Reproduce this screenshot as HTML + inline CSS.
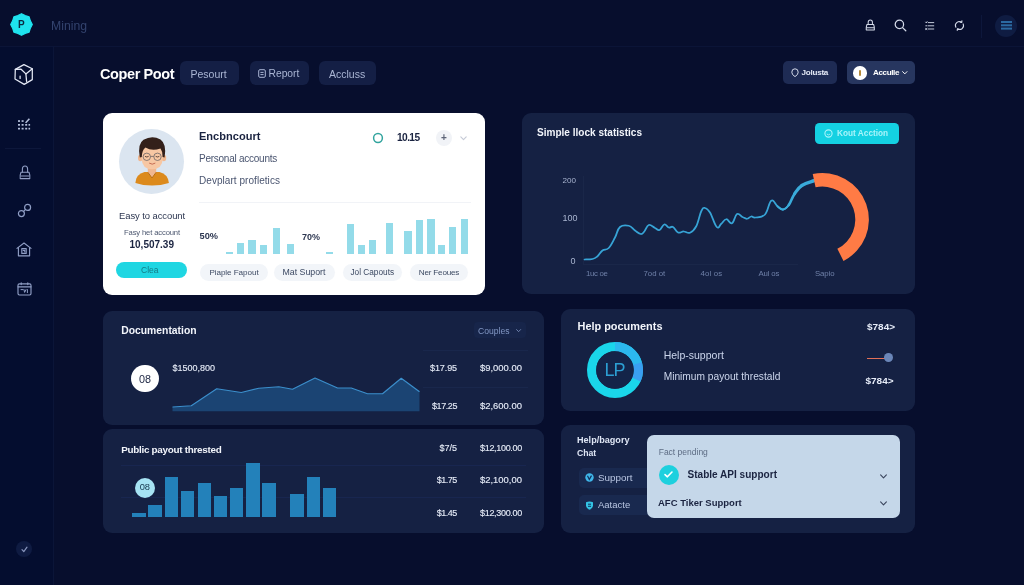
<!DOCTYPE html>
<html lang="en">
<head>
<meta charset="utf-8">
<title>Coper Poot – Mining dashboard</title>
<style>
*{box-sizing:border-box;margin:0;padding:0}
html,body{width:1024px;height:585px;overflow:hidden}
body{background:#070e2d;font-family:"Liberation Sans",sans-serif;color:#fff;position:relative}
.abs{position:absolute}
.t{position:absolute;white-space:nowrap;line-height:1;transform:translateY(-50%)}
.b{font-weight:bold}
.card{position:absolute;background:#152143;border-radius:9px}
.tab{position:absolute;background:#141f45;border-radius:6px;top:61px;height:24px}
.pill{position:absolute;background:#f2f5f9;border-radius:9px;top:263.5px;height:17px;color:#3d4a63;font-size:9px;text-align:center;line-height:17px;white-space:nowrap}
.bar{position:absolute;background:#93dbe9}
.bar2{position:absolute;background:#2381ba}
.num{font-size:10px;color:#e6ecf8;-webkit-text-stroke:0.120px #e6ecf8}
svg{position:absolute;overflow:visible}
</style>
</head>
<body>
<!-- sidebar + header base -->
<div class="abs" id="sidebar" style="left:0;top:46px;width:53px;height:539px;background:#040d2f"></div>
<div class="abs" style="left:0;top:45.5px;width:1024px;height:1px;background:#0b1437"></div>
<div class="abs" style="left:53px;top:46px;width:1px;height:539px;background:#0b1538"></div>

<!-- logo -->
<svg style="left:9.4px;top:12px" width="25" height="25" viewBox="0 0 25 25">
  <polygon points="12.50,1.70 16.17,3.63 20.14,4.86 21.37,8.83 23.30,12.50 21.37,16.17 20.14,20.14 16.17,21.37 12.50,23.30 8.83,21.37 4.86,20.14 3.63,16.17 1.70,12.50 3.63,8.83 4.86,4.86 8.83,3.63" fill="#1fe3ee" stroke="#1fe3ee" stroke-width="1.200" stroke-linejoin="round"/>
  <text x="12.400" y="16" font-family="Liberation Sans, sans-serif" font-weight="bold" font-size="10" text-anchor="middle" fill="#0b2a40">P</text>
</svg>
<div class="t" style="left:51px;top:25.5px;color:#33436e;font-size:12.22px">Mining</div>

<!-- title + tabs -->
<div class="t b" style="left:100px;top:73.5px;font-size:14.5px;letter-spacing:-0.39px">Coper Poot</div>
<div class="tab" style="left:180px;width:58.5px"></div>
<div class="t" style="left:190.5px;top:73.5px;font-size:10.5px;color:#aab6d4">Pesourt</div>
<div class="tab" style="left:249.5px;width:59px"></div>
<div class="t" style="left:268.5px;top:73.5px;color:#aab6d4;font-size:10.29px">Report</div>
<div class="tab" style="left:319px;width:57px"></div>
<div class="t" style="left:329px;top:73.5px;font-size:10.5px;color:#aab6d4">Accluss</div>

<!-- right buttons -->
<div class="abs" style="left:783px;top:61px;width:54px;height:23px;background:#1e2b54;border-radius:5px"></div>
<div class="t b" style="left:801.5px;top:72.8px;color:#e4e9f6;font-size:8.1px;letter-spacing:-0.25px">Jolusta</div>
<div class="abs" style="left:846.5px;top:61px;width:68px;height:23px;background:#27365f;border-radius:5px"></div>
<div class="abs" style="left:853px;top:66px;width:13.5px;height:13.5px;border-radius:50%;background:#fff"></div>
<div class="t b" style="left:873px;top:72.8px;color:#fff;font-size:8.1px;letter-spacing:-0.39px">Acculle</div>


<!-- header icons -->
<svg style="left:865px;top:19.300px" width="10.600" height="12.400" viewBox="0 0 12 14" fill="none" stroke="#d5dbea" stroke-width="1.150" stroke-linecap="round" stroke-linejoin="round">
  <path d="M3.600,6 L3.600,3.600 Q3.600,1 6,1 Q8.400,1 8.400,3.600 L8.400,6"/>
  <path d="M2.200,6.200 L9.800,6.200 Q11,9.500 10.600,12.400 L1.400,12.400 Q1,9.500 2.200,6.200 Z"/>
  <path d="M2,10 L10,10"/>
</svg>
<svg style="left:893.500px;top:19px" width="13" height="13" viewBox="0 0 13 13" fill="none" stroke="#d5dbea" stroke-width="1.250" stroke-linecap="round">
  <circle cx="5.400" cy="5.400" r="4.200"/><path d="M8.600,8.600 L11.800,11.800"/>
</svg>
<svg style="left:925px;top:20.800px" width="9.600" height="9.600" viewBox="0 0 12 12" fill="none" stroke="#d5dbea" stroke-width="1.150" stroke-linecap="round">
  <path d="M4,2 L11,2 M4,6 L11,6 M4,10 L11,10"/><path d="M0.800,1.400 L1.600,2.400 L2.600,0.800 M1,6 L2.400,6 M0.800,9.400 L2.400,10.600 M2.400,9.400 L0.800,10.600"/>
</svg>
<svg style="left:954.300px;top:20px" width="11" height="11" viewBox="0 0 13 13" fill="none" stroke="#d5dbea" stroke-width="1.250" stroke-linecap="round" stroke-linejoin="round">
  <path d="M2.200,8.600 Q0.600,5.400 3.200,3.200 Q6,1 9,2.400"/><path d="M9.400,0.800 L9.200,2.800 L7.200,2.600"/>
  <path d="M10.800,4.600 Q12.200,7.600 9.800,10 Q7.200,12 4.200,10.800"/><path d="M3.800,12.300 L4,10.400 L6,10.600"/>
</svg>
<div class="abs" style="left:981px;top:15px;width:1px;height:23px;background:#0d173b"></div>
<div class="abs" style="left:995px;top:14.500px;width:22px;height:22px;border-radius:50%;background:#0f1c42"></div>
<div class="abs" style="left:1000.500px;top:21.300px;width:11px;height:1.600px;background:#2b6aa2;box-shadow:0 3.300px 0 #2b6aa2,0 6.600px 0 #2b6aa2"></div>
<!-- small button icons -->
<svg style="left:791px;top:68px" width="8" height="10" viewBox="0 0 8 10" fill="none" stroke="#d5dbea" stroke-width="1"><path d="M4,0.800 Q7.200,0.800 7.200,4.200 Q7.200,6.800 4,8.600 Q0.800,6.800 0.800,4.200 Q0.800,0.800 4,0.800 Z"/></svg>
<div class="abs" style="left:858.600px;top:70px;width:2.400px;height:5.500px;border-radius:1px;background:#b58a3a"></div>
<svg style="left:902px;top:71px" width="5.600" height="4" viewBox="0 0 7 5"><path d="M0.800,0.800 L3.500,3.600 L6.200,0.800" fill="none" stroke="#fff" stroke-width="1.200" stroke-linecap="round" stroke-linejoin="round"/></svg>
<svg style="left:257.500px;top:69px" width="8" height="9" viewBox="0 0 8 9" fill="none" stroke="#aab6d4" stroke-width="1"><rect x="0.700" y="0.700" width="6.600" height="7.600" rx="1.200"/><path d="M2.400,3.400 L5.600,3.400 M2.400,5.600 L5.600,5.600"/></svg>

<!-- sidebar icons -->
<svg style="left:14px;top:64px" width="20" height="22" viewBox="0 0 20 22" fill="none" stroke="#e4e8f4" stroke-width="1.250" stroke-linejoin="round" stroke-linecap="round">
  <path d="M9.900,0.600 L18.300,4.800 L18.300,15.600 L10.200,20.400 L1,15 L1.300,5.400 Z"/>
  <path d="M1.300,5.400 L7.100,5.200 L11.900,9.900 L18.300,4.800"/>
  <path d="M11.900,9.900 L12.600,17.400"/>
  <path d="M6.100,12 L6.100,14.400"/>
</svg>
<svg style="left:17px;top:117px" width="14" height="14" viewBox="0 0 14 14" fill="#b4bfdb">
  <rect x="1" y="3.200" width="2" height="1.700"/><rect x="4.600" y="3.200" width="2" height="1.700"/>
  <rect x="1" y="7" width="2" height="1.700"/><rect x="4.600" y="7" width="2" height="1.700"/><rect x="8.200" y="7" width="2" height="1.700"/><rect x="11.500" y="7" width="1.600" height="1.700"/>
  <rect x="1" y="10.800" width="2" height="1.700"/><rect x="4.600" y="10.800" width="2" height="1.700"/><rect x="8.200" y="10.800" width="2" height="1.700"/><rect x="11.500" y="10.800" width="1.600" height="1.700"/>
  <path d="M8,5.400 L11.800,1.200 L13,2.300 L9.300,6.200 Z"/>
</svg>
<div class="abs" style="left:5px;top:147.500px;width:36px;height:1px;background:#0d173b"></div>
<svg style="left:18.500px;top:164.500px" width="12" height="15" viewBox="0 0 12 15" fill="none" stroke="#8f9dc4" stroke-width="1.100" stroke-linecap="round" stroke-linejoin="round">
  <path d="M3.400,7 L3.400,4 Q3.400,1 6,1 Q8.600,1 8.600,4 L8.600,7"/>
  <path d="M2,7.200 L10,7.200 Q11.400,10.500 10.800,13.600 L1.200,13.600 Q0.600,10.500 2,7.200 Z"/><path d="M1.600,11 L10.400,11"/>
</svg>
<svg style="left:17px;top:203px" width="15" height="15" viewBox="0 0 15 15" fill="none" stroke="#8f9dc4" stroke-width="1.200" stroke-linecap="round">
  <circle cx="10.600" cy="4.400" r="3"/><circle cx="4.400" cy="10.600" r="3"/><path d="M6.400,8.600 L8.600,6.400"/>
</svg>
<svg style="left:16px;top:241.500px" width="16" height="15" viewBox="0 0 16 15" fill="none" stroke="#8f9dc4" stroke-width="1.150" stroke-linejoin="round" stroke-linecap="round">
  <path d="M1,6.400 L8,1 L15,6.400"/><path d="M2.400,5.600 L2.400,13.800 L13.600,13.800 L13.600,5.600"/><rect x="5.800" y="6.600" width="4.400" height="4.800"/><path d="M7.200,8.400 L8.800,8.400 L8.800,10"/>
</svg>
<svg style="left:16.500px;top:281.500px" width="15" height="14" viewBox="0 0 15 14" fill="none" stroke="#8f9dc4" stroke-width="1.150" stroke-linejoin="round" stroke-linecap="round">
  <rect x="1" y="1.800" width="13" height="11.200" rx="1.400"/><path d="M1,4.800 L14,4.800 M4.200,0.800 L4.200,2.600 M10.800,0.800 L10.800,2.600"/><path d="M4,7.600 L6,7.600 M7,7.600 L7.600,10.400 L9,7.600 M10.400,7.600 L10.400,10.600" stroke-width="1"/>
</svg>
<div class="abs" style="left:16px;top:541px;width:16px;height:16px;border-radius:50%;background:#0f1b42"></div>
<svg style="left:20.500px;top:545.500px" width="7" height="7" viewBox="0 0 7 7"><path d="M1,3.600 L2.800,5.600 L6,1.200" fill="none" stroke="#8794bc" stroke-width="1.200" stroke-linecap="round" stroke-linejoin="round"/></svg>

<!-- CARD A : white account card -->
<div class="abs" id="cardA" style="left:102.5px;top:113px;width:382px;height:181.5px;background:#fff;border-radius:9px"></div>


<!-- avatar -->
<svg style="left:118.5px;top:128.5px" width="65" height="65" viewBox="0 0 65 65">
  <defs><clipPath id="avc"><circle cx="32.500" cy="32.500" r="32.500"/></clipPath></defs>
  <circle cx="32.500" cy="32.500" r="32.500" fill="#dbe5f0"/>
  <g clip-path="url(#avc)">
    <path d="M16.400,54 Q17,45 25.500,43 L40.500,43 Q49,45 49.900,54 Q42,56.600 33,56.600 Q24,56.600 16.400,54 Z" fill="#dc8a1c"/>
    <path d="M28.800,37 L37.200,37 L37.200,43.500 L33,49 L28.800,43.500 Z" fill="#f1b78f"/>
    <path d="M28.800,43.200 L33,49 L37.200,43.200" fill="none" stroke="#b86f14" stroke-width="1"/>
    <ellipse cx="21.300" cy="29" rx="2.300" ry="3.200" fill="#f1b78f"/>
    <ellipse cx="44.900" cy="29" rx="2.300" ry="3.200" fill="#f1b78f"/>
    <path d="M22.600,22 Q22.600,12 33,12 Q43.800,12 43.800,22 L43.800,29.500 Q43.400,40.200 33.200,40.200 Q23,40.200 22.600,29.500 Z" fill="#f7c7a3"/>
    <path d="M20.800,28.500 Q18.200,15 24.500,10.800 Q33,5.800 41.500,10.400 Q48,15 45.600,28.500 L43.600,28 Q43.800,22.500 41.500,19.500 Q33,22.500 26.500,18.600 Q23,21 22.800,28 Z" fill="#33201a"/>
    <circle cx="27.800" cy="27.800" r="3.700" fill="none" stroke="#6b6466" stroke-width="0.800"/>
    <circle cx="38.500" cy="27.800" r="3.700" fill="none" stroke="#6b6466" stroke-width="0.800"/>
    <path d="M31.500,27.400 L34.800,27.400" stroke="#6b6466" stroke-width="0.800"/>
    <path d="M26.300,27.600 Q27.800,28.600 29.300,27.600 M37,27.600 Q38.500,28.600 40,27.600" stroke="#3b2a26" stroke-width="0.800" fill="none" stroke-linecap="round"/>
    <path d="M30.500,34.300 Q33.200,36.300 36,34.300" stroke="#c0624a" stroke-width="0.900" fill="none" stroke-linecap="round"/>
  </g>
</svg>
<div class="t b" style="left:199px;top:136.5px;color:#1a2340;font-size:11.05px">Encbncourt</div>
<div class="t" style="left:199px;top:159px;color:#4a5570;font-size:10px;letter-spacing:-0.25px">Personal accounts</div>
<div class="t" style="left:199px;top:180.5px;color:#4a5570;font-size:10px;letter-spacing:0.05px">Devplart profletics</div>
<div class="abs" style="left:199px;top:202px;width:272px;height:1px;background:#f1f3f7"></div>
<svg style="left:371.800px;top:131.600px" width="12" height="12" viewBox="0 0 12 12"><circle cx="6" cy="6" r="4.400" fill="none" stroke="#32a49e" stroke-width="1.500"/></svg>
<div class="t b" style="left:397px;top:137.5px;color:#1a2340;font-size:10.2px;letter-spacing:-0.6px">10.15</div>
<div class="abs" style="left:435.5px;top:129.5px;width:16.5px;height:16.5px;border-radius:50%;background:#f1f3f7"></div>
<div class="t b" style="left:440.900px;top:138.400px;font-size:10px;color:#5d6477">+</div>
<svg style="left:460px;top:135.5px" width="7" height="5" viewBox="0 0 7 5"><path d="M0.800,0.800 L3.500,3.600 L6.200,0.800" fill="none" stroke="#c5cad6" stroke-width="1.100" stroke-linecap="round" stroke-linejoin="round"/></svg>
<div class="t" style="left:119px;top:216px;color:#2c3650;font-size:9.45px;letter-spacing:-0.07px">Easy to account</div>
<div class="t" style="left:124px;top:232.5px;color:#4d5870;font-size:7.65px;letter-spacing:-0.14px">Fasy het account</div>
<div class="t b" style="left:129.5px;top:245px;font-size:10px;color:#1a2340">10,507.39</div>
<div class="abs" style="left:116px;top:262px;width:71px;height:15.5px;border-radius:8px;background:#1fd6e2"></div>
<div class="t" style="left:141px;top:269.8px;font-size:8.5px;color:#147a86">Clea</div>
<div class="t b" style="left:199.5px;top:237px;color:#2c3650;font-size:9.24px">50%</div>
<div class="t b" style="left:302px;top:237px;color:#2c3650;font-size:8.99px">70%</div>
<div class="bar" style="left:225.75px;top:251.75px;width:7.25px;height:2.0px"></div><div class="bar" style="left:237px;top:243px;width:6.75px;height:10.75px"></div><div class="bar" style="left:248px;top:239.5px;width:7.5px;height:14.25px"></div><div class="bar" style="left:259.5px;top:245px;width:7.25px;height:8.75px"></div><div class="bar" style="left:272.5px;top:227.5px;width:7.5px;height:26.25px"></div><div class="bar" style="left:286.5px;top:243.75px;width:7.25px;height:10.0px"></div><div class="bar" style="left:325.5px;top:251.5px;width:7.5px;height:2.25px"></div><div class="bar" style="left:346.75px;top:223.75px;width:7.0px;height:30.0px"></div><div class="bar" style="left:358px;top:244.5px;width:7px;height:9.25px"></div><div class="bar" style="left:368.75px;top:240px;width:7.0px;height:13.75px"></div><div class="bar" style="left:385.75px;top:223.25px;width:7.5px;height:30.5px"></div><div class="bar" style="left:404.25px;top:230.75px;width:7.5px;height:23.0px"></div><div class="bar" style="left:415.5px;top:219.5px;width:7.0px;height:34.25px"></div><div class="bar" style="left:427px;top:219.25px;width:7.5px;height:34.5px"></div><div class="bar" style="left:438px;top:244.5px;width:7px;height:9.25px"></div><div class="bar" style="left:449px;top:227px;width:7.25px;height:26.75px"></div><div class="bar" style="left:460.5px;top:218.75px;width:7.5px;height:35.0px"></div>
<div class="pill" style="left:200px;width:68px;font-size:8.1px;letter-spacing:-0.06px">Piaple Fapout</div>
<div class="pill" style="left:273.5px;width:61px;font-size:8.79px">Mat Suport</div>
<div class="pill" style="left:342.5px;width:59.5px;font-size:8.28px">Jol Capouts</div>
<div class="pill" style="left:410px;width:58px;font-size:8.1px;letter-spacing:-0.18px">Ner Feoues</div>

<!-- CARD B : statistics -->
<div class="card" id="cardB" style="left:522px;top:113px;width:392.5px;height:181px"></div>


<div class="t b" style="left:537px;top:133px;color:#f2f5fb;font-size:10.05px">Simple llock statistics</div>
<div class="abs" style="left:814.5px;top:123px;width:84px;height:20.5px;border-radius:4.5px;background:#14d1e2"></div>
<svg style="left:823.5px;top:128.5px" width="9" height="9" viewBox="0 0 9 9"><circle cx="4.500" cy="4.500" r="3.600" fill="none" stroke="#a8f4fa" stroke-width="1.100"/><path d="M2.800,5 Q4.500,6.800 6.200,5" fill="none" stroke="#a8f4fa" stroke-width="0.900"/></svg>
<div class="t b" style="left:837px;top:133.5px;color:#a8f4fa;font-size:8.27px">Kout Acction</div>
<div class="t" style="left:562.5px;top:180.5px;color:#a9b5d0;font-size:8.1px">200</div>
<div class="t" style="left:562.5px;top:218.2px;font-size:9px;color:#a9b5d0">100</div>
<div class="t" style="left:570.5px;top:260.5px;font-size:9px;color:#a9b5d0">0</div>
<div class="abs" style="left:583px;top:176px;width:1px;height:88px;background:#1a2749"></div>
<div class="abs" style="left:583px;top:264px;width:215px;height:1px;background:#1a2749"></div>
<div class="t" style="left:586px;top:274.3px;color:#6f80a8;font-size:7.8px;letter-spacing:-0.32px">1uc oe</div>
<div class="t" style="left:643.5px;top:274.3px;color:#6f80a8;font-size:7.8px;letter-spacing:0.01px">7od ot</div>
<div class="t" style="left:700.5px;top:274.3px;color:#6f80a8;font-size:7.8px;letter-spacing:0.16px">4ol os</div>
<div class="t" style="left:758.5px;top:274.3px;color:#6f80a8;font-size:7.8px;letter-spacing:-0.15px">Aul os</div>
<div class="t" style="left:815px;top:274.3px;color:#6f80a8;font-size:7.8px;letter-spacing:-0.09px">Sapio</div>
<svg style="left:0;top:0" width="1024" height="585" viewBox="0 0 1024 585">
  <path d="M584.5,259.5 C586.15,259.40 589.81,259.67 592.5,259 C595.19,258.33 595.43,258.01 597.5,256.25 C599.57,254.49 600.17,252.21 602.5,250.5 C604.83,248.79 606.17,250.69 608.75,248 C611.33,245.31 612.67,241.84 615,237.5 C617.33,233.16 617.16,229.43 620,227 C622.84,224.57 625.65,225.03 628.75,225.75 C631.85,226.47 632.52,228.79 635,230.5 C637.48,232.21 638.79,233.84 640.75,234 C642.71,234.16 642.85,233.11 644.5,231.25 C646.15,229.39 646.58,225.67 648.75,225 C650.92,224.33 652.78,226.97 655,228 C657.22,229.03 657.59,230.72 659.5,230 C661.41,229.28 662.34,225.02 664.25,224.5 C666.16,223.98 666.94,226.98 668.75,227.5 C670.56,228.02 671.09,225.97 673,227 C674.91,228.03 675.78,231.57 678,232.5 C680.22,233.43 681.27,231.45 683.75,231.5 C686.23,231.55 687.42,233.84 690,232.75 C692.58,231.66 693.92,230.69 696.25,226.25 C698.58,221.81 699.44,215.02 701.25,211.25 C703.06,207.48 703.19,207.74 705,208 C706.81,208.26 707.57,208.57 710,212.5 C712.43,216.43 714.42,224.68 716.75,227 C719.08,229.32 719.29,225.35 721.25,223.75 C723.21,222.15 724.03,219.35 726.25,219.25 C728.47,219.15 729.78,224.34 732,223.25 C734.22,222.16 734.83,215.29 737,214 C739.17,212.71 740.43,216.02 742.5,217 C744.57,217.98 745.19,218.85 747,218.75 C748.81,218.65 749.49,216.76 751.25,216.5 C753.01,216.24 752.66,217.91 755.5,217.5 C758.34,217.09 761.75,217.96 765,214.5 C768.25,211.04 768.67,202.46 771.25,200.75 C773.83,199.04 775.07,204.44 777.5,206.25 C779.93,208.06 780.67,209.76 783,209.5 C785.33,209.24 786.37,208.22 788.75,205" fill="none" stroke="#37a4d6" stroke-width="1.750" stroke-linejoin="round" stroke-linecap="round"/>
  <path d="M777.5,206.25 C779.93,208.06 780.67,209.76 783,209.5" fill="none" stroke="#3aabda" stroke-width="1.8" stroke-linecap="round"/>
  <path d="M783,209.5 C785.33,209.24 786.37,208.22 788.75,205" fill="none" stroke="#3aabda" stroke-width="2.1" stroke-linecap="round"/>
  <path d="M788.75,205 C791.13,201.78 791.76,197.95 794.5,193.9" fill="none" stroke="#3aabda" stroke-width="2.6" stroke-linecap="round"/>
  <path d="M794.5,193.9 C797.24,189.85 797.95,188.13 802,185.4" fill="none" stroke="#3aabda" stroke-width="3.1" stroke-linecap="round"/>
  <path d="M802,185.4 C806.05,182.67 811.60,181.67 814.1,180.7" fill="none" stroke="#3aabda" stroke-width="3.5" stroke-linecap="round"/>
  <path d="M812.73,174.02 A46.5,46.5 0 0 1 843.51,260.93 L837.34,248.81 A32.9,32.9 0 0 0 815.56,187.32 Z" fill="#ff7b45"/>
</svg>

<!-- CARD C : documentation -->
<div class="card" id="cardC" style="left:102.5px;top:311px;width:441.5px;height:113.5px"></div>


<div class="t b" style="left:121.2px;top:330.5px;color:#f2f5fb;font-size:10.37px">Documentation</div>
<div class="abs" style="left:473.500px;top:322px;width:52.500px;height:15.500px;border-radius:4px;background:#17254a"></div>
<div class="t" style="left:478px;top:330.5px;color:#8297c4;font-size:8.58px">Couples</div>
<svg style="left:516px;top:328.800px" width="5.200" height="3.700" viewBox="0 0 7 5"><path d="M0.800,0.800 L3.500,3.600 L6.200,0.800" fill="none" stroke="#8297c4" stroke-width="1.100" stroke-linecap="round" stroke-linejoin="round"/></svg>
<div class="abs" style="left:131.2px;top:364.500px;width:27.5px;height:27.5px;border-radius:50%;background:#fff"></div>
<div class="t" style="left:139px;top:378.500px;font-size:10.800px;color:#1a2340">08</div>
<div class="t num" style="left:172.5px;top:368px;font-size:9.0px">$1500,800</div>
<svg style="left:0;top:0" width="1024" height="585" viewBox="0 0 1024 585">
  <path d="M172.5,407 L191.25,405.75 L216.75,388.75 L241.25,392.5 L258.75,388.25 L278.75,386.75 L292.5,389.25 L315,378 L337.5,388 L351.25,388 L367.5,393.75 L382.5,393.75 L401.25,378.25 L419.5,391.75 L419.5,411.25 L172.5,411.25 Z" fill="#1b4473"/>
  <path d="M172.5,407 L191.25,405.75 L216.75,388.75 L241.25,392.5 L258.75,388.25 L278.75,386.75 L292.5,389.25 L315,378 L337.5,388 L351.25,388 L367.5,393.75 L382.5,393.75 L401.25,378.25 L419.5,391.75" fill="none" stroke="#3b8ecb" stroke-width="1.200" stroke-linejoin="round"/>
</svg>
<div class="abs" style="left:423px;top:349.500px;width:105px;height:1px;background:#19274c"></div>
<div class="abs" style="left:423px;top:386.500px;width:105px;height:1px;background:#19274c"></div>
<div class="t num" style="left:430px;top:368px;font-size:9.0px;letter-spacing:-0.09px">$17.95</div>
<div class="t num" style="left:480px;top:368px;font-size:9.44px">$9,000.00</div>
<div class="t num" style="left:432px;top:405.5px;font-size:9.0px;letter-spacing:-0.42px">$17.25</div>
<div class="t num" style="left:480px;top:405.5px;font-size:9.44px">$2,600.00</div>

<!-- CARD D : public payout -->
<div class="card" id="cardD" style="left:102.5px;top:429px;width:441.5px;height:103.5px"></div>


<div class="t b" style="left:121.2px;top:449.5px;color:#f2f5fb;font-size:9.9px;letter-spacing:-0.28px">Public payout thrested</div>
<div class="abs" style="left:121px;top:465px;width:405px;height:1px;background:#182650"></div>
<div class="abs" style="left:121px;top:497px;width:405px;height:1px;background:#182650"></div>
<div class="bar2" style="left:132px;top:513px;width:13.75px;height:4px"></div><div class="bar2" style="left:148.25px;top:505px;width:13.5px;height:12px"></div><div class="bar2" style="left:164.5px;top:477px;width:13.75px;height:40px"></div><div class="bar2" style="left:180.75px;top:491.25px;width:13.5px;height:25.75px"></div><div class="bar2" style="left:197.5px;top:483px;width:13.25px;height:34px"></div><div class="bar2" style="left:213.75px;top:496.25px;width:13.25px;height:20.75px"></div><div class="bar2" style="left:230px;top:488.25px;width:13px;height:28.75px"></div><div class="bar2" style="left:246px;top:463.25px;width:13.5px;height:53.75px"></div><div class="bar2" style="left:262.25px;top:483px;width:13.5px;height:34px"></div><div class="bar2" style="left:290.25px;top:493.75px;width:13.5px;height:23.25px"></div><div class="bar2" style="left:306.5px;top:477px;width:13.5px;height:40px"></div><div class="bar2" style="left:323px;top:488.25px;width:13.25px;height:28.75px"></div>
<div class="abs" style="left:135px;top:477.5px;width:20px;height:20px;border-radius:50%;background:#a6e3f3"></div>
<div class="t" style="left:139.700px;top:487.600px;font-size:9.300px;color:#17394f">08</div>
<div class="t num" style="left:439.5px;top:447.5px;font-size:9.0px">$7/5</div>
<div class="t num" style="left:480px;top:447.5px;font-size:9.0px;letter-spacing:-0.31px">$12,100.00</div>
<div class="t num" style="left:436.7px;top:480px;font-size:9.0px;letter-spacing:-0.46px">$1.75</div>
<div class="t num" style="left:480px;top:480px;font-size:9.44px">$2,100,00</div>
<div class="t num" style="left:436.7px;top:513.2px;font-size:9.0px;letter-spacing:-0.46px">$1.45</div>
<div class="t num" style="left:480px;top:513.2px;font-size:9.0px;letter-spacing:-0.31px">$12,300.00</div>

<!-- CARD E : help documents -->
<div class="card" id="cardE" style="left:561px;top:308.5px;width:353.5px;height:102px"></div>


<div class="t b" style="left:577.5px;top:326.2px;color:#f2f5fb;font-size:10.93px">Help pocuments</div>
<svg style="left:587px;top:342px" width="56" height="56" viewBox="0 0 56 56">
  <circle cx="28" cy="28" r="23.400" fill="none" stroke="#1ad6ea" stroke-width="9.200"/>
  <path d="M28.00,4.60 A23.400,23.400 0 0 1 50.60,21.94" fill="none" stroke="#2cb8ee" stroke-width="9.200"/>
  <path d="M50.49,21.55 A23.400,23.400 0 0 1 49.38,37.52" fill="none" stroke="#3a9ff2" stroke-width="9.200"/>
  <circle cx="28" cy="28" r="18.800" fill="#142449"/>
  <text x="27.600" y="34.400" font-family="Liberation Sans, sans-serif" font-size="18" letter-spacing="-1" text-anchor="middle" fill="#2c9fd3">LP</text>
</svg>
<div class="t" style="left:663.7px;top:355px;font-size:10.5px;color:#ccd6ec">Help-support</div>
<div class="t" style="left:663.7px;top:377px;color:#ccd6ec;font-size:10.2px">Minimum payout threstald</div>
<div class="t b" style="left:867px;top:327px;color:#e6ecf8;font-size:9.97px">$784&gt;</div>
<div class="abs" style="left:867px;top:357.500px;width:18px;height:1.5px;background:#e26f57"></div>
<div class="abs" style="left:883.700px;top:353.200px;width:9px;height:9px;border-radius:50%;background:#6a86b8"></div>
<div class="t b" style="left:865.5px;top:381.2px;color:#e6ecf8;font-size:9.97px">$784&gt;</div>

<!-- CARD F : help category -->
<div class="card" id="cardF" style="left:561px;top:424.5px;width:353.5px;height:108px"></div>


<div class="t b" style="left:577px;top:440.5px;color:#dfe6f5;font-size:9.08px">Help/bagory</div>
<div class="t b" style="left:577px;top:452.5px;color:#dfe6f5;font-size:8.66px">Chat</div>
<div class="abs" style="left:578.700px;top:467.500px;width:75px;height:20px;border-radius:5px;background:#19294f"></div>
<div class="abs" style="left:578.700px;top:495px;width:75px;height:19.500px;border-radius:5px;background:#19294f"></div>
<svg style="left:585px;top:472.700px" width="9" height="9" viewBox="0 0 9 9"><circle cx="4.500" cy="4.500" r="4.200" fill="#3fb7ea"/><path d="M2.500,2.800 L4.300,6.400 L6.500,2.600" fill="none" stroke="#12305c" stroke-width="1.200"/></svg>
<svg style="left:585px;top:500.500px" width="9" height="9" viewBox="0 0 9 9"><path d="M1,1.200 Q4.500,-0.200 8,1.200 L8,5 Q7.500,7.800 4.500,8.800 Q1.500,7.800 1,5 Z" fill="#33c3e4"/><path d="M3,3.200 L6,3.200 M3,5.300 L6,5.300" stroke="#12305c" stroke-width="1"/></svg>
<div class="t" style="left:598px;top:477.500px;color:#b9c6e2;font-size:9.85px">Support</div>
<div class="t" style="left:598px;top:505px;font-size:9.5px;color:#b9c6e2">Aatacte</div>
<div class="abs" style="left:647px;top:435px;width:252.500px;height:83px;border-radius:7px;background:#c5d7e9"></div>
<div class="t" style="left:658.700px;top:451.700px;font-size:8.5px;color:#5d6c84">Fact pending</div>
<div class="abs" style="left:658.700px;top:464.500px;width:20px;height:20px;border-radius:50%;background:#1dd0de"></div>
<svg style="left:664.200px;top:470.800px" width="9" height="7" viewBox="0 0 9 7"><path d="M1,3.600 L3.400,5.800 L8,1" fill="none" stroke="#fff" stroke-width="1.600" stroke-linecap="round" stroke-linejoin="round"/></svg>
<div class="t b" style="left:687.500px;top:475px;color:#1a2340;font-size:10.05px">Stable API support</div>
<div class="t b" style="left:658px;top:503.200px;color:#1a2340;font-size:9.5px">AFC Tiker Support</div>
<svg style="left:879.500px;top:473.500px" width="7" height="5" viewBox="0 0 7 5"><path d="M0.600,0.800 L3.500,3.800 L6.400,0.800" fill="none" stroke="#3a445c" stroke-width="1.100" stroke-linecap="round" stroke-linejoin="round"/></svg>
<svg style="left:879.500px;top:501.200px" width="7" height="5" viewBox="0 0 7 5"><path d="M0.600,0.800 L3.500,3.800 L6.400,0.800" fill="none" stroke="#3a445c" stroke-width="1.100" stroke-linecap="round" stroke-linejoin="round"/></svg>

</body>
</html>
